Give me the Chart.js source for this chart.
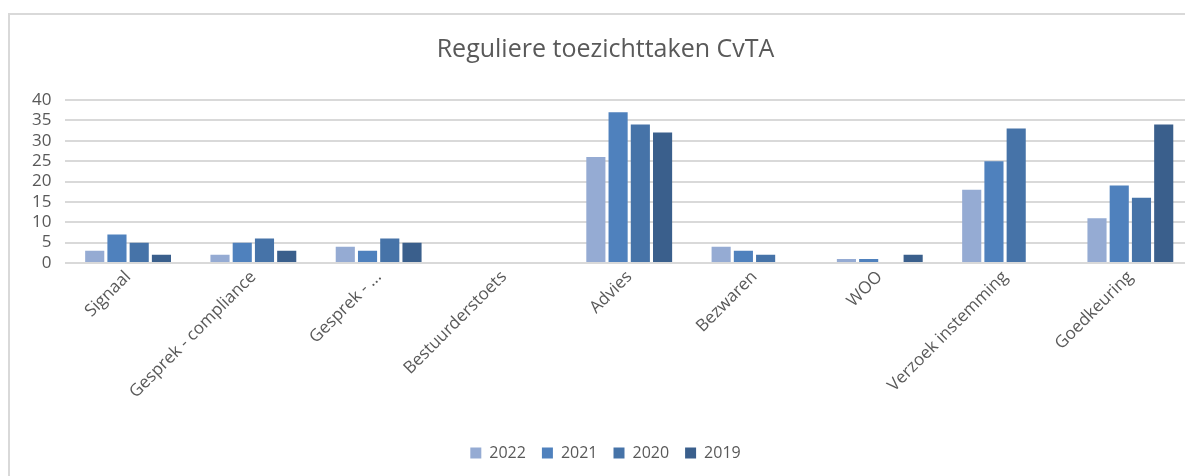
<!DOCTYPE html>
<html>
<head>
<meta charset="utf-8">
<script src="https://cdn.jsdelivr.net/npm/chart.js@4"></script>
<style>
  html, body { margin: 0; padding: 0; background: #fff; overflow: hidden; }
  #kader { position: absolute; left: 8px; top: 13px; width: 1200px; height: 480px;
           border-left: 2px solid #d9d9d9; border-top: 2px solid #d9d9d9; }
  #wrap { position: absolute; left: 8px; top: 0; width: 1190px; height: 476px; }
</style>
</head>
<body>
<div id="kader"></div>
<div id="wrap"><canvas id="grafiek"></canvas></div>
<script>
var categorieen = ['Signaal', 'Gesprek - compliance', 'Gesprek - ...', 'Bestuurderstoets',
  'Advies', 'Bezwaren', 'WOO', 'Verzoek instemming', 'Goedkeuring'];
var jaren = ['2022', '2021', '2020', '2019'];
var w2022 = [3, 2, 4, 0, 26, 4, 1, 18, 11];
var w2021 = [7, 5, 3, 0, 37, 3, 1, 25, 19];
var w2020 = [5, 6, 6, 0, 34, 2, 0, 33, 16];
var w2019 = [2, 3, 5, 0, 32, 0, 2, 0, 34];
var kleuren = ['#95abd3', '#4f81bd', '#4673a8', '#3a5f8c'];

var grijs = '#595959';
var font = "'Open Sans', sans-serif";

var reeksen = [w2022, w2021, w2020, w2019].map(function(d, i) {
  return {
    label: jaren[i],
    data: d,
    backgroundColor: kleuren[i],
    borderWidth: 0,
    categoryPercentage: 0.71,
    barPercentage: 0.86
  };
});

var ctx = document.getElementById('grafiek').getContext('2d');
var chart = new Chart(ctx, {
  type: 'bar',
  data: { labels: categorieen, datasets: reeksen },
  options: {
    responsive: true,
    maintainAspectRatio: false,
    animation: false,
    layout: { padding: { left: 10, right: 5, top: 35, bottom: 5 } },
    plugins: {
      title: {
        display: true,
        text: 'Reguliere toezichttaken CvTA',
        color: grijs,
        font: { family: font, size: 25, weight: 'normal' },
        padding: { top: 0, bottom: 35 }
      },
      legend: {
        position: 'bottom',
        labels: {
          color: grijs,
          font: { family: font, size: 16 },
          boxWidth: 11,
          boxHeight: 11,
          padding: 16
        }
      },
      tooltip: { enabled: false }
    },
    scales: {
      y: {
        min: 0,
        max: 40,
        ticks: { stepSize: 5, autoSkip: false, color: grijs, font: { family: font, size: 17 }, padding: 14 },
        grid: { color: '#d9d9d9', lineWidth: 2, drawTicks: false },
        border: { display: false }
      },
      x: {
        ticks: { color: grijs, font: { family: font, size: 17 }, minRotation: 45, maxRotation: 45, padding: 4 },
        grid: { display: false, drawTicks: false },
        border: { display: false },
        afterFit: function(scale) { scale.height = 166; }
      }
    }
  }
});
</script>
</body>
</html>
